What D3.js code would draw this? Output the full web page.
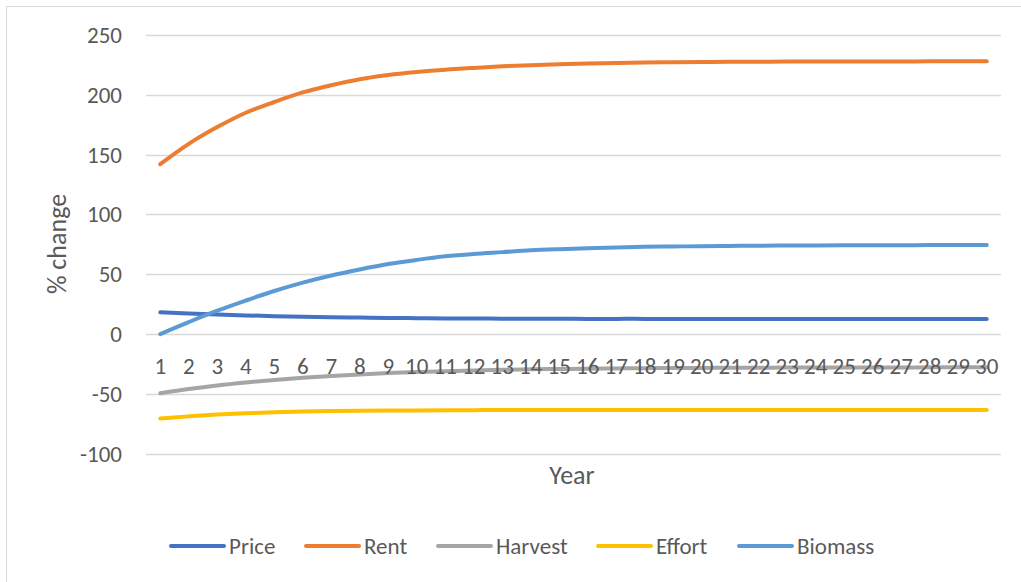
<!DOCTYPE html>
<html lang="en">
  <head>
    <meta charset="UTF-8" />
    <title>% change by year</title>
    <script src="https://cdn.jsdelivr.net/npm/d3@7"></script>
    <style>
      body { margin: 0; background: #fff; }
      text { font-family: Carlito, "Liberation Sans", Arial, sans-serif; fill: #595959; }
    </style>
  </head>
  <body>
    <div class="chart"></div>
    <script>
      "use strict";

      const years = d3.range(1, 31);
      const yTicks = [-100, -50, 0, 50, 100, 150, 200, 250];

      const price = [18.2, 17.2, 16.3, 15.6, 15.0, 14.5, 14.1, 13.8, 13.5, 13.3, 13.1, 13.0, 12.9, 12.8, 12.8, 12.7, 12.7, 12.7, 12.6, 12.6, 12.6, 12.6, 12.6, 12.6, 12.6, 12.6, 12.6, 12.6, 12.6, 12.6];
      const rent = [142, 159, 173, 185, 194, 202, 208, 213, 216.5, 219, 221, 222.5, 223.8, 224.8, 225.5, 226.1, 226.6, 227, 227.2, 227.4, 227.6, 227.7, 227.8, 227.8, 227.9, 227.9, 227.9, 228, 228, 228];
      const harvest = [-49.5, -46, -43, -40.5, -38.3, -36.5, -35, -33.7, -32.6, -31.7, -31, -30.4, -29.9, -29.5, -29.2, -28.9, -28.7, -28.5, -28.4, -28.3, -28.2, -28.1, -28, -28, -27.9, -27.9, -27.9, -27.8, -27.8, -27.8];
      const effort = [-70.5, -68.8, -67.3, -66.2, -65.4, -64.8, -64.4, -64.1, -63.9, -63.8, -63.7, -63.6, -63.5, -63.5, -63.5, -63.4, -63.4, -63.4, -63.4, -63.4, -63.4, -63.4, -63.4, -63.4, -63.4, -63.4, -63.4, -63.4, -63.4, -63.4];
      const biomass = [0, 10, 19.5, 28, 36, 43, 49, 54, 58.5, 62, 65, 67, 68.5, 70, 71, 71.8, 72.4, 72.9, 73.2, 73.5, 73.7, 73.9, 74, 74.1, 74.2, 74.3, 74.3, 74.4, 74.4, 74.4];

      const seriesNames = ["Price", "Rent", "Harvest", "Effort", "Biomass"];
      const seriesValues = [price, rent, harvest, effort, biomass];
      const colors = ["#4472C4", "#ED7D31", "#A5A5A5", "#FFC000", "#5B9BD5"];

      const width = 1021;
      const height = 582;

      const svg = d3
        .select(".chart")
        .append("svg")
        .attr("width", width)
        .attr("height", height);

      // outer frame (only left/top visible in the original crop)
      svg
        .append("rect")
        .attr("x", 6.5)
        .attr("y", 6.5)
        .attr("width", 1030)
        .attr("height", 600)
        .attr("fill", "none")
        .attr("stroke", "#D9D9D9");

      const xScale = d3.scaleBand().domain(years).range([146, 1001]);
      const yScale = d3.scaleLinear().domain([-100, 250]).range([453.7, 35]);
      const xc = (d) => xScale(d) + xScale.bandwidth() / 2;

      // gridlines
      svg
        .append("g")
        .selectAll("line")
        .data(yTicks)
        .enter()
        .append("line")
        .attr("x1", 146)
        .attr("x2", 1001)
        .attr("y1", (d) => Math.round(yScale(d)) + 0.5)
        .attr("y2", (d) => Math.round(yScale(d)) + 0.5)
        .attr("stroke", "#D9D9D9")
        .attr("stroke-width", 1.5);

      // y tick labels
      svg
        .append("g")
        .selectAll("text")
        .data(yTicks)
        .enter()
        .append("text")
        .attr("x", 122)
        .attr("y", (d) => yScale(d))
        .attr("dy", "0.35em")
        .attr("text-anchor", "end")
        .style("font-size", "23px")
        .text((d) => d);

      // lines
      const line = d3
        .line()
        .x((d, i) => xc(years[i]))
        .y((d) => yScale(d))
        .curve(d3.curveCatmullRom);

      svg
        .append("g")
        .selectAll("path")
        .data(seriesValues)
        .enter()
        .append("path")
        .attr("d", line)
        .attr("fill", "none")
        .attr("stroke", (d, i) => colors[i])
        .attr("stroke-width", 4)
        .attr("stroke-linecap", "round")
        .attr("stroke-linejoin", "round");

      // x tick labels sit just below the zero line
      svg
        .append("g")
        .selectAll("text")
        .data(years)
        .enter()
        .append("text")
        .attr("x", (d) => xc(d))
        .attr("y", yScale(0) + 32)
        .attr("dy", "0.35em")
        .attr("text-anchor", "middle")
        .style("font-size", "23px")
        .text((d) => d);

      // axis titles
      svg
        .append("text")
        .attr("transform", `translate(57, 244) rotate(-90)`)
        .attr("dy", "0.35em")
        .attr("text-anchor", "middle")
        .style("font-size", "26px")
        .text("% change");

      svg
        .append("text")
        .attr("x", 572)
        .attr("y", 475)
        .attr("dy", "0.35em")
        .attr("text-anchor", "middle")
        .style("font-size", "26px")
        .text("Year");

      // legend
      const legendX = [169, 304, 436, 596, 737];
      const legend = svg
        .append("g")
        .selectAll("g")
        .data(seriesNames)
        .enter()
        .append("g")
        .attr("transform", (d, i) => `translate(${legendX[i]}, 546)`);

      legend
        .append("line")
        .attr("x1", 2)
        .attr("x2", 55)
        .attr("stroke", (d, i) => colors[i])
        .attr("stroke-width", 4)
        .attr("stroke-linecap", "round");

      legend
        .append("text")
        .attr("x", 60)
        .attr("dy", "0.35em")
        .style("font-size", "23px")
        .text((d) => d);
    </script>
  </body>
</html>
